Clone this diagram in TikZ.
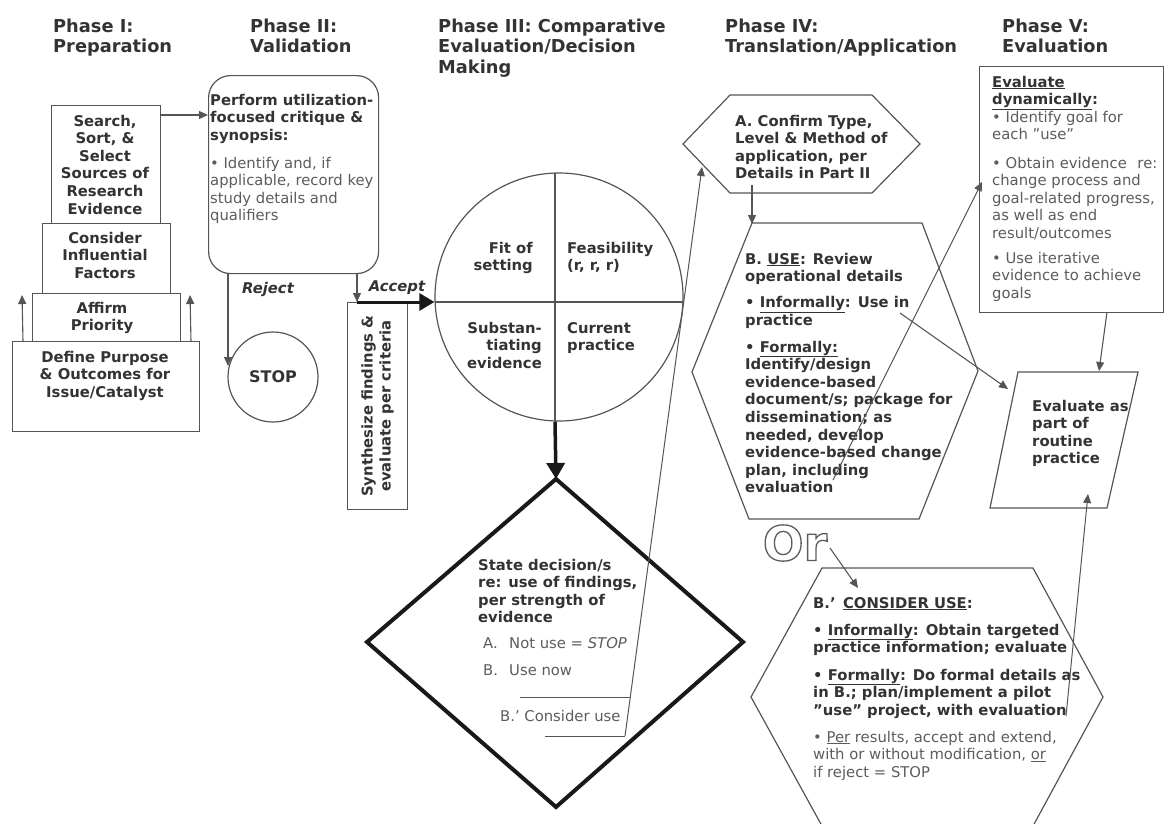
\documentclass[tikz,border=0pt]{standalone}
\usepackage{fontspec}
\setmainfont{DejaVu Sans}
\usetikzlibrary{arrows.meta}
\definecolor{dark}{HTML}{333333}
\definecolor{mid}{HTML}{5C5C5C}
\definecolor{linec}{HTML}{555555}
% hollow (stroked, unfilled) text via the PDF text rendering mode
\newcommand{\hollowtext}[1]{\special{pdf:literal direct 1 Tr 1.3 w 0.36 0.36 0.36 RG}#1\special{pdf:literal direct 0 Tr}}
\begin{document}
\begin{tikzpicture}[x=1pt,y=-1pt,
  % multi-line nodes are placed by the baseline of their last line
  head/.style={font=\bfseries\fontsize{17.8}{20.5}\selectfont, text=dark, inner sep=0, align=left, anchor=base west},
  bt/.style={font=\bfseries\fontsize{14.8}{17.6}\selectfont, text=dark, inner sep=0, align=left, anchor=base west},
  rt/.style={font=\fontsize{14.8}{17.6}\selectfont, text=mid, inner sep=0, align=left, anchor=base west},
  ctr/.style={align=center, anchor=base},
  shp/.style={draw=linec, line width=1.2pt},
  arr/.style={draw=linec, line width=1.1pt, -{Triangle[length=9pt,width=8pt]}},
  thick arr/.style={draw=black!90, line width=3.5pt, -{Triangle[length=16pt,width=18pt]}},
  bx/.style={shp, rectangle, inner sep=0, anchor=north west},
]
\useasboundingbox (0,0) rectangle (1167,823);

% ---------- phase headings ----------
\node[head] (h1) at (53,52.5) {Phase I:\\Preparation};
\node[head] (h2) at (250,52.5) {Phase II:\\Validation};
\node[head] (h3) at (438,73) {Phase III: Comparative\\Evaluation/Decision\\Making};
\node[head] (h4) at (725,52.5) {Phase IV:\\Translation/Application};
\node[head] (h5) at (1002,52.5) {Phase V:\\Evaluation};

% ---------- Phase I: stacked boxes ----------
\node[bx, minimum width=109, minimum height=118] (search) at (51,105) {};
\node[bx, minimum width=128, minimum height=70] (factors) at (42,223) {};
\node[bx, minimum width=148, minimum height=48] (affirm) at (32,293) {};
\node[bx, minimum width=187, minimum height=90] (define) at (12,341) {};
\node[bt, ctr] at (105,214) {Search,\\Sort, \&\\Select\\Sources of\\Research\\Evidence};
\node[bt, ctr] at (105,278.2) {Consider\\Influential\\Factors};
\node[bt, ctr] at (102,330.6) {Affirm\\Priority};
\node[bt, ctr] at (105,397.2) {Define Purpose\\\& Outcomes for\\Issue/Catalyst};
\coordinate (upL0) at (23,341);
\coordinate (upL1) at (22,295);
\coordinate (upR0) at (191,341);
\coordinate (upR1) at (190,295);
\draw[arr] (upL0) -- (upL1);
\draw[arr] (upR0) -- (upR1);

% ---------- Phase II ----------
\node[shp, rectangle, rounded corners=22pt, inner sep=0, anchor=north west,
      minimum width=170, minimum height=198] (critique) at (208,75) {};
\node[bt] at (210,140.2) {Perform utilization-\\focused critique \&\\synopsis:};
\node[rt] at (210,220.8) {• Identify and, if\\applicable, record key\\study details and\\qualifiers};
\draw[arr] (search.east |- 0,115) -- (critique.west |- 0,115);

\node[shp, circle, minimum size=90, inner sep=0, font=\bfseries\fontsize{16}{16}\selectfont, text=dark] (stop) at (273,377) {STOP};
\coordinate (rej0) at (228,273);
\coordinate (rej1) at (228,366);
\draw[arr] (rej0) -- (rej1);
\node[font=\bfseries\itshape\fontsize{14.8}{17}\selectfont, text=dark, anchor=base] (rejlbl) at (268,293) {Reject};

\node[bx, minimum width=60, minimum height=207] (synth) at (347,302) {};
\node[font=\bfseries\fontsize{14.8}{18}\selectfont, text=dark, align=center, rotate=90, inner sep=0] at (synth.center) {Synthesize findings \&\\evaluate per criteria};

\coordinate (acc0) at (357,273);
\coordinate (acc1) at (357,302);
\draw[arr] (acc0) -- (acc1);
\node[font=\bfseries\itshape\fontsize{14.8}{17}\selectfont, text=dark, anchor=base] (acclbl) at (397,291) {Accept};

% ---------- Phase III: criteria circle ----------
\node[shp, circle, minimum size=248, inner sep=0] (quad) at (559,297) {};
\draw[shp] (435,302) -- (683,302);
\draw[shp] (555,173) -- (555,421);
\draw[draw=black!90, line width=3pt, -{Triangle[length=15pt,width=17pt]}] (acc1) -- (quad.west |- acc1);
\node[bt, align=right, anchor=base east] at (533,270.6) {Fit of\\setting};
\node[bt] at (567,270.6) {Feasibility\\(r, r, r)};
\node[bt, align=right, anchor=base east] at (542,368.2) {Substan-\\tiating\\evidence};
\node[bt] at (567,350.6) {Current\\practice};

% ---------- decision diamond ----------
\coordinate (dtop) at (556,479);
\draw[draw=black!90, line width=4pt, line join=miter] (dtop) -- (743,642) -- (556,807) -- (367,642) -- cycle;
\draw[thick arr] (quad.south -| 555,0) -- (dtop);
\node[bt] at (478,622.8) {State decision/s\\re: use of findings,\\per strength of\\evidence};
\node[rt] at (483,648) {A.};
\node[rt] at (509,648) {Not use = \textit{STOP}};
\node[rt] at (483,675) {B.};
\node[rt] at (509,675) {Use now};
\node[rt] at (500,721) {B.’ Consider use};
\coordinate (brA) at (520,697);
\coordinate (brB) at (630,697);
\coordinate (brC) at (545,736);
\coordinate (brD) at (625,736);
\draw[draw=linec, line width=1pt] (brA) -- (brB);
\draw[draw=linec, line width=1pt] (brC) -- (brD);

% ---------- Phase IV ----------
\draw[shp] (683,144) -- (730,95) -- (872,95) -- (920,144) -- (872,193) -- (730,193) -- cycle;
\node[bt] (confirm) at (735,178.8) {A. Confirm Type,\\Level \& Method of\\application, per\\Details in Part II};
\coordinate (hexAin) at (702,167);
\draw[arr, line width=1pt] (brD) -- (hexAin);

\draw[shp] (752,223) -- (922,223) -- (978,371) -- (919,519) -- (749,519) -- (692,372) -- cycle;
\coordinate (a2b0) at (752,185);
\coordinate (a2b1) at (752,224);
\draw[arr] (a2b0) -- (a2b1);
\node[bt] at (745,281.6) {B. \underline{USE}: Review\\operational details};
\node[bt] (informal) at (745,325.1) {• \underline{Informally}: Use in\\practice};
\node[bt] (formal) at (745,492.8) {• \underline{Formally:}\\Identify/design\\evidence-based\\document/s; package for\\dissemination; as\\needed, develop\\evidence-based change\\plan, including\\evaluation};

\node[font=\bfseries\fontsize{48}{48}\selectfont, inner sep=0, text=mid] (orlbl) at (795,543) {\hollowtext{Or}};

\draw[shp] (822,568) -- (1033,568) -- (1103,697) -- (1033,826) -- (822,826) -- (751,697) -- cycle;
\node[bt] at (813,608) {B.’\hspace{0.5em}\underline{CONSIDER USE}:};
\node[bt] at (813,652.6) {• \underline{Informally}: Obtain targeted\\practice information; evaluate};
\node[bt] (pilot) at (813,715.2) {• \underline{Formally}: Do formal details as\\in B.; plan/implement a pilot\\"use" project, with evaluation};
\node[rt] at (813,777.2) {• \underline{Per} results, accept and extend,\\with or without modification, \underline{or}\\if reject = STOP};
\coordinate (or0) at (830,548);
\coordinate (or1) at (858,588);
\draw[arr] (or0) -- (or1);

% ---------- Phase V ----------
\node[bx, minimum width=184, minimum height=246] (dyn) at (979,66) {};
\node[bt] at (992,104.6) {\underline{Evaluate}\\\underline{dynamically}:};
\node[rt] at (992,139.6) {• Identify goal for\\each "use"};
\node[rt] at (992,238.4) {• Obtain evidence\hspace{0.4em} re:\\change process and\\goal-related progress,\\as well as end\\result/outcomes};
\node[rt] at (992,298.2) {• Use iterative\\evidence to achieve\\goals};

\draw[shp] (1018,372) -- (1138,372) -- (1107,508) -- (990,508) -- cycle;
\node[bt] (routine) at (1032,463.8) {Evaluate as\\part of\\routine\\practice};

\coordinate (f0) at (833,480);
\coordinate (f1) at (982,182);
\draw[arr, line width=1pt] (f0) -- (f1);
\coordinate (i0) at (900,313);
\coordinate (i1) at (1008,389);
\draw[arr] (i0) -- (i1);
\coordinate (d0) at (1107,312);
\coordinate (d1) at (1099,371);
\draw[arr] (d0) -- (d1);
\coordinate (p0) at (1066,716);
\coordinate (p1) at (1088,494);
\draw[arr, line width=1pt] (p0) -- (p1);
\end{tikzpicture}
\end{document}
